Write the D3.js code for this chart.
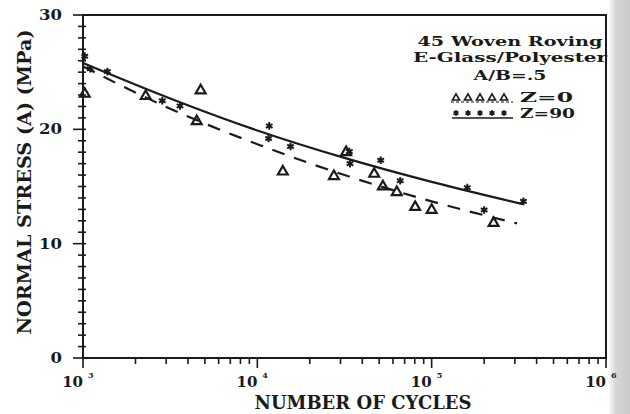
<!DOCTYPE html>
<html>
<head>
<meta charset="utf-8">
<script src="https://cdn.jsdelivr.net/npm/d3@7"></script>
<style>
  body { margin: 0; background: #fff; }
  svg text { font-family: "DejaVu Serif", serif; font-weight: bold; fill: #1a1a1a; }
</style>
</head>
<body>
<div id="chart"></div>
<script>
// Z=0 points (triangles)
const z0Cycles = [1023, 2290, 4730, 4490, 14000, 27500, 32300, 46800, 52500, 63100, 80400, 100000, 226500]
const z0Stress = [23.1, 22.9, 23.4, 20.7, 16.3, 15.9, 18.0, 16.1, 15.0, 14.5, 13.2, 12.95, 11.8]

// Z=90 points (stars)
const z90Cycles = [1023, 1100, 1380, 2850, 3600, 11700, 11600, 15500, 33700, 34000, 51000, 66000, 160000, 200000, 336000]
const z90Stress = [26.4, 25.3, 25.05, 22.5, 22.05, 20.3, 19.2, 18.5, 18.05, 17.0, 17.3, 15.5, 14.9, 12.95, 13.7]

// fitted curves
const fit90Cycles = [1000, 3162, 10000, 31623, 100000, 334000]
const fit90Stress = [25.8, 22.7, 19.9, 17.5, 15.4, 13.45]
const fit0Cycles  = [1000, 3162, 10000, 31623, 100000, 309000]
const fit0Stress  = [25.5, 21.8, 18.7, 16.0, 13.7, 11.77]

const yTickValues = [0, 10, 20, 30]
const xDecades = [3, 4, 5, 6]
const legendLines = ["45 Woven Roving", "E-Glass/Polyester", "A/B=.5"]

const W = 630, H = 414
const ink = "#1a1a1a"

const svg = d3.select("#chart").append("svg")
  .attr("width", W).attr("height", H)

// scan edge on the right
const grad = svg.append("defs").append("linearGradient").attr("id", "edge")
grad.append("stop").attr("offset", "0%").attr("stop-color", "#ffffff")
grad.append("stop").attr("offset", "35%").attr("stop-color", "#d6d6d6")
grad.append("stop").attr("offset", "100%").attr("stop-color", "#c9c9c9")
svg.append("rect").attr("x", 608).attr("y", 0).attr("width", 22).attr("height", H)
  .attr("fill", "url(#edge)")

const x = d3.scaleLog().domain([1e3, 1e6]).range([83, 606])
const y = d3.scaleLinear().domain([0, 30]).range([358, 15])

// frame
svg.append("path")
  .attr("d", `M${x(1e3)},${y(0)}V${y(30)}H${x(1e6)}V${y(0)}Z`)
  .attr("fill", "none").attr("stroke", ink).attr("stroke-width", 2)

// y ticks, every 1 unit
const yMinor = d3.range(0, 31)
svg.append("g").selectAll("line").data(yMinor).enter().append("line")
  .attr("x1", d => d % 10 === 0 ? x(1e3) - 10 : x(1e3) - 5)
  .attr("x2", x(1e3) + 3)
  .attr("y1", d => y(d)).attr("y2", d => y(d))
  .attr("stroke", ink).attr("stroke-width", 1.6)

svg.append("g").selectAll("text").data(yTickValues).enter().append("text")
  .attr("x", 62).attr("y", d => y(d) + 5)
  .attr("text-anchor", "end").attr("font-size", 14)
  .attr("textLength", d => String(d).length * 11.5).attr("lengthAdjust", "spacingAndGlyphs")
  .text(d => d)

// x ticks (log)
const xTicks = x.ticks()
svg.append("g").selectAll("line").data(xTicks).enter().append("line")
  .attr("x1", d => x(d)).attr("x2", d => x(d))
  .attr("y1", y(0))
  .attr("y2", d => Number.isInteger(Math.log10(d)) ? y(0) + 10 : y(0) + 6)
  .attr("stroke", ink).attr("stroke-width", 1.6)

const xl = svg.append("g").selectAll("g").data(xDecades).enter().append("g")
  .attr("transform", d => `translate(${x(Math.pow(10, d))},387)`)
xl.append("text").attr("text-anchor", "end").attr("font-size", 15).text("10")
xl.append("text").attr("x", 5).attr("y", -9).attr("font-size", 8).text(d => d)

// axis titles
svg.append("text")
  .attr("x", 363).attr("y", 409).attr("text-anchor", "middle")
  .attr("font-size", 18).attr("textLength", 217).attr("lengthAdjust", "spacingAndGlyphs")
  .text("NUMBER OF CYCLES")

svg.append("text")
  .attr("transform", "translate(31,182) rotate(-90)")
  .attr("text-anchor", "middle")
  .attr("font-size", 18).attr("textLength", 305).attr("lengthAdjust", "spacingAndGlyphs")
  .text("NORMAL STRESS (A) (MPa)")

// fit curves
const line = d3.line()
  .x(d => x(d[0])).y(d => y(d[1]))
  .curve(d3.curveMonotoneX)

svg.append("path")
  .attr("d", line(d3.zip(fit90Cycles, fit90Stress)))
  .attr("fill", "none").attr("stroke", ink).attr("stroke-width", 2.2)

svg.append("path")
  .attr("d", line(d3.zip(fit0Cycles, fit0Stress)))
  .attr("fill", "none").attr("stroke", ink).attr("stroke-width", 2.2)
  .attr("stroke-dasharray", "13,10")

// markers
const tri = d3.symbol().type(d3.symbolTriangle).size(42)
const star = d3.symbol().type(d3.symbolAsterisk).size(40)

svg.append("g").selectAll("path").data(d3.zip(z0Cycles, z0Stress)).enter().append("path")
  .attr("transform", d => `translate(${x(d[0])},${y(d[1])})`)
  .attr("d", tri)
  .attr("fill", "none").attr("stroke", ink).attr("stroke-width", 2.2)

svg.append("g").selectAll("path").data(d3.zip(z90Cycles, z90Stress)).enter().append("path")
  .attr("transform", d => `translate(${x(d[0])},${y(d[1])})`)
  .attr("d", star)
  .attr("fill", "none").attr("stroke", ink).attr("stroke-width", 2)

// legend
const lg = svg.append("g")
const legendWidths = [185, 194, 73]
const legendBase = [46, 62, 80]
legendLines.forEach((t, i) => {
  lg.append("text")
    .attr("x", 510).attr("y", legendBase[i]).attr("text-anchor", "middle")
    .attr("font-size", 13.5).attr("textLength", legendWidths[i]).attr("lengthAdjust", "spacingAndGlyphs")
    .text(t)
})

const keyX = d3.range(5).map(i => 456 + i * 12)
lg.append("line").attr("x1", 451).attr("x2", 513).attr("y1", 102).attr("y2", 102)
  .attr("stroke", ink).attr("stroke-width", 1.2).attr("stroke-dasharray", "3,2")
lg.selectAll(".ktri").data(keyX).enter().append("path")
  .attr("transform", d => `translate(${d},98)`)
  .attr("d", d3.symbol().type(d3.symbolTriangle).size(22))
  .attr("fill", "none").attr("stroke", ink).attr("stroke-width", 1.6)
lg.append("text").attr("x", 520).attr("y", 102).attr("font-size", 13.5)
  .attr("textLength", 53).attr("lengthAdjust", "spacingAndGlyphs").text("Z=0")

lg.append("line").attr("x1", 452).attr("x2", 513).attr("y1", 118).attr("y2", 118)
  .attr("stroke", ink).attr("stroke-width", 1.4)
lg.selectAll(".kstar").data(keyX).enter().append("path")
  .attr("transform", d => `translate(${d},113)`)
  .attr("d", d3.symbol().type(d3.symbolAsterisk).size(24))
  .attr("fill", "none").attr("stroke", ink).attr("stroke-width", 1.5)
lg.append("text").attr("x", 520).attr("y", 118).attr("font-size", 13.5)
  .attr("textLength", 55).attr("lengthAdjust", "spacingAndGlyphs").text("Z=90")
</script>
</body>
</html>
